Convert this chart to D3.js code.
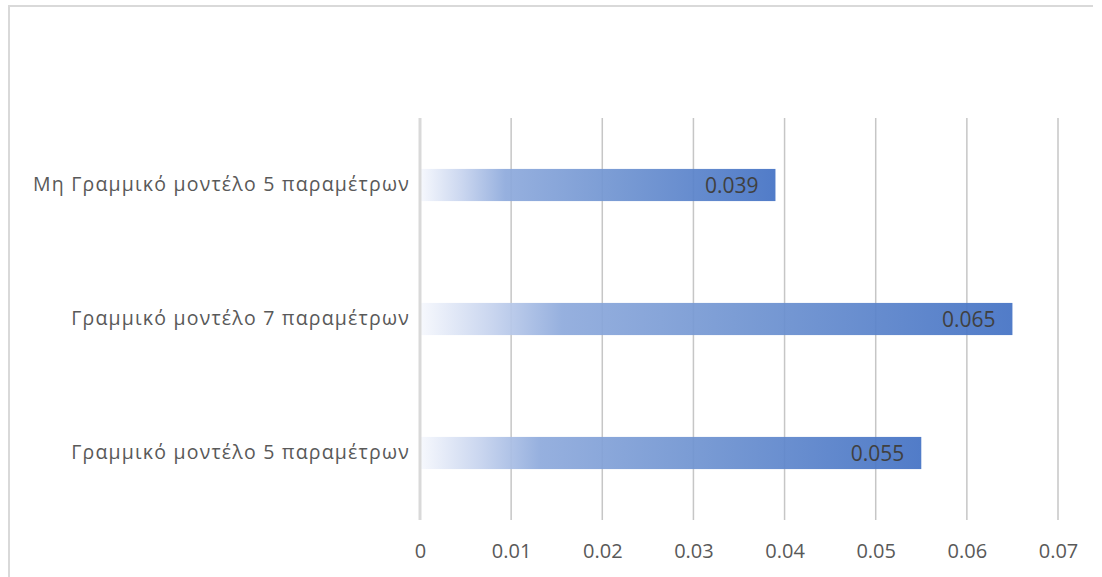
<!DOCTYPE html>
<html>
<head>
<meta charset="utf-8">
<script src="https://cdn.jsdelivr.net/npm/d3@7"></script>
<style>
  html, body { margin: 0; padding: 0; background: #ffffff; }
  svg { display: block; }
</style>
</head>
<body>
<svg id="chart" width="1102" height="577"></svg>
<script>
// Categories (top to bottom) and their values
const categories = [
  "Μη Γραμμικό μοντέλο 5 παραμέτρων",
  "Γραμμικό μοντέλο 7 παραμέτρων",
  "Γραμμικό μοντέλο 5 παραμέτρων"
];
const values = [0.039, 0.065, 0.055];
const tickValues = [0, 0.01, 0.02, 0.03, 0.04, 0.05, 0.06, 0.07];
const tickLabels = ["0", "0.01", "0.02", "0.03", "0.04", "0.05", "0.06", "0.07"];

const font = "'Open Sans', 'Noto Sans', sans-serif";
const svg = d3.select("#chart");

// Outer frame (top and left edges)
svg.append("line").attr("x1", 8).attr("x2", 1093).attr("y1", 6).attr("y2", 6)
  .attr("stroke", "#d9d9d9").attr("stroke-width", 2);
svg.append("line").attr("x1", 9).attr("x2", 9).attr("y1", 5).attr("y2", 577)
  .attr("stroke", "#d9d9d9").attr("stroke-width", 2);

const plot = { left: 420, right: 1058, top: 118, bottom: 520 };

const x = d3.scaleLinear().domain([0, 0.07]).range([plot.left, plot.right]);
const y = d3.scaleBand().domain(categories).range([plot.top, plot.bottom])
  .paddingInner(0.76).paddingOuter(0.38);

// Gradient for the bars: near-white at the base, deepening to blue at the tip
const defs = svg.append("defs");
const grad = defs.append("linearGradient").attr("id", "barGrad")
  .attr("x1", "0%").attr("x2", "100%").attr("y1", "0%").attr("y2", "0%");
grad.append("stop").attr("offset", "0%").attr("stop-color", "#f6f8fd");
grad.append("stop").attr("offset", "12%").attr("stop-color", "#c6d3ee");
grad.append("stop").attr("offset", "24%").attr("stop-color", "#8eaadc");
grad.append("stop").attr("offset", "55%").attr("stop-color", "#7094d1");
grad.append("stop").attr("offset", "100%").attr("stop-color", "#4472c4");

// Vertical gridlines
svg.append("g").selectAll("line")
  .data(tickValues.slice(1))
  .join("line")
  .attr("x1", d => x(d)).attr("x2", d => x(d))
  .attr("y1", plot.top).attr("y2", plot.bottom)
  .attr("stroke", "#c6c6c6").attr("stroke-width", 1.5);

// Bars
svg.append("g").selectAll("rect")
  .data(categories)
  .join("rect")
  .attr("x", x(0))
  .attr("y", d => y(d))
  .attr("width", (d, i) => x(values[i]) - x(0))
  .attr("height", y.bandwidth())
  .attr("fill", "url(#barGrad)")
  .attr("fill-opacity", 0.93);

// Value axis line at zero
svg.append("line")
  .attr("x1", x(0)).attr("x2", x(0))
  .attr("y1", plot.top).attr("y2", plot.bottom)
  .attr("stroke", "#d9d9d9").attr("stroke-width", 3);

// Value labels inside the bar ends
svg.append("g").selectAll("text")
  .data(categories)
  .join("text")
  .attr("x", (d, i) => x(values[i]) - 17)
  .attr("y", d => y(d) + y.bandwidth() / 2)
  .attr("dy", "0.36em")
  .attr("text-anchor", "end")
  .attr("font-family", font)
  .attr("font-size", 21)
  .attr("fill", "#404040")
  .text((d, i) => values[i].toString());

// Category labels
const yAxis = d3.axisLeft(y).tickSize(0).tickPadding(9);
const gy = svg.append("g").attr("transform", `translate(${plot.left - 1},0)`).call(yAxis);
gy.select(".domain").remove();
gy.selectAll("text")
  .attr("font-family", font)
  .attr("font-size", 19.5)
  .attr("letter-spacing", 1.2)
  .attr("fill", "#595959");

// Tick labels along the bottom
const xAxis = d3.axisBottom(x).tickValues(tickValues)
  .tickFormat((d, i) => tickLabels[i]).tickSize(0).tickPadding(24);
const gx = svg.append("g").attr("transform", `translate(0,${plot.bottom})`).call(xAxis);
gx.select(".domain").remove();
gx.selectAll("text")
  .attr("font-family", font)
  .attr("font-size", 20)
  .attr("fill", "#595959");
</script>
</body>
</html>
